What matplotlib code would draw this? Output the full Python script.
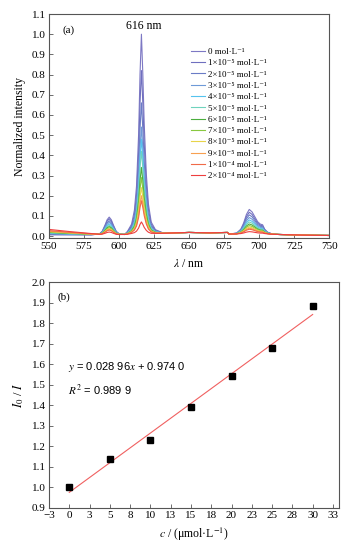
import numpy as np
import matplotlib
matplotlib.use("Agg")
import matplotlib.pyplot as plt

plt.rcParams['font.family'] = ['Liberation Serif', 'DejaVu Serif']
plt.rcParams['mathtext.fontset'] = 'stix'

# ---- (a) emission spectra ----
# common wavelength grid (nm)
wavelength = [550, 565, 580, 586, 588, 590, 591.5, 593, 594.5, 596, 598, 600,
              604, 606, 609, 611, 612.5, 614, 615, 616, 617, 618, 619.5, 621, 623, 626, 632,
              650, 665, 677.5, 678.5,
              684, 687, 689, 691, 693, 695, 697, 699, 701, 702.5, 704, 706, 709, 714, 730, 750]
# band shapes (normalised), same grid
shape_593 = [0, 0, 0, 0.05, 0.2, 0.55, 0.85, 1.0, 0.85, 0.55, 0.2, 0.05,
             0, 0, 0, 0, 0, 0, 0, 0, 0, 0, 0, 0, 0, 0, 0,
             0, 0, 0, 0,
             0, 0, 0, 0, 0, 0, 0, 0, 0, 0, 0, 0, 0, 0, 0, 0]
shape_616 = [0, 0, 0, 0, 0, 0, 0, 0, 0, 0, 0, 0,
             0, 0.015, 0.05, 0.12, 0.24, 0.5, 0.8, 1.0, 0.8, 0.55, 0.3, 0.15, 0.06, 0.02, 0,
             0, 0, 0, 0,
             0, 0, 0, 0, 0, 0, 0, 0, 0, 0, 0, 0, 0, 0, 0, 0]
shape_693 = [0, 0, 0, 0, 0, 0, 0, 0, 0, 0, 0, 0,
             0, 0, 0, 0, 0, 0, 0, 0, 0, 0, 0, 0, 0, 0, 0,
             0, 0, 0, 0,
             0.04, 0.2, 0.45, 0.8, 1.0, 0.9, 0.7, 0.5, 0.4, 0.38, 0.2, 0.08, 0.02, 0, 0, 0]
baseline = [0.006, 0.006, 0.006, 0.006, 0.006, 0.006, 0.006, 0.006, 0.006, 0.006, 0.006, 0.007,
            0.008, 0.008, 0.01, 0.01, 0.01, 0.01, 0.01, 0.01, 0.01, 0.01, 0.01, 0.01, 0.01, 0.012, 0.014,
            0.018, 0.016, 0.018, 0.01,
            0.01, 0.01, 0.01, 0.01, 0.01, 0.01, 0.01, 0.01, 0.01, 0.01, 0.01, 0.01, 0.009, 0.008, 0.005, 0.003]
edge_shape = [1.0, 0.6, 0.25, 0.08, 0.03, 0, 0, 0, 0, 0, 0, 0,
              0, 0, 0, 0, 0, 0, 0, 0, 0, 0, 0, 0, 0, 0, 0,
              0, 0, 0, 0,
              0, 0, 0, 0, 0, 0, 0, 0, 0, 0, 0, 0, 0, 0, 0, 0]

conc_labels = ['0 mol·L⁻¹', '1×10⁻⁵ mol·L⁻¹', '2×10⁻⁵ mol·L⁻¹', '3×10⁻⁵ mol·L⁻¹',
               '4×10⁻⁵ mol·L⁻¹', '5×10⁻⁵ mol·L⁻¹', '6×10⁻⁵ mol·L⁻¹', '7×10⁻⁵ mol·L⁻¹',
               '8×10⁻⁵ mol·L⁻¹', '9×10⁻⁵ mol·L⁻¹', '1×10⁻⁴ mol·L⁻¹', '2×10⁻⁴ mol·L⁻¹']
peak_616 = [0.99, 0.81, 0.65, 0.53, 0.47, 0.41, 0.33, 0.28, 0.23, 0.19, 0.165, 0.06]
peak_593 = [0.088, 0.08, 0.07, 0.062, 0.054, 0.047, 0.041, 0.035, 0.031, 0.027, 0.024, 0.014]
peak_693 = [0.122, 0.108, 0.095, 0.082, 0.07, 0.06, 0.05, 0.042, 0.035, 0.029, 0.024, 0.012]
edge_550 = [0.0, 0.002, 0.004, 0.006, 0.008, 0.01, 0.012, 0.014, 0.016, 0.018, 0.021, 0.027]
colors = ['#7d78c4', '#6f6fbf', '#6a7cc6', '#6e9ad8', '#55c3ee', '#6fd3bd',
          '#4cae3e', '#88c840', '#e8d44a', '#f8a050', '#f06a48', '#ee3f3f']

# ---- (b) Stern-Volmer plot ----
conc = [0, 5, 10, 15, 20, 25, 30]
ratio = [1.0, 1.135, 1.23, 1.39, 1.54, 1.68, 1.885]
slope = 0.02896
intercept = 0.9740
xtick_vals = [-2.5, 0, 2.5, 5, 7.5, 10, 12.5, 15, 17.5, 20, 22.5, 25, 27.5, 30, 32.5]
xtick_labels = ['−3', '0', '3', '5', '8', '10', '13', '15', '18', '20', '23', '25', '28', '30', '33']

fig = plt.figure(figsize=(3.55, 5.52), dpi=100)
spine_c = '#555555'

ax1 = fig.add_axes([0.138, 0.5683, 0.789, 0.4063])
wl = np.array(wavelength)
for i in range(len(peak_616)):
    y = (np.array(baseline) + edge_550[i] * np.array(edge_shape)
         + peak_593[i] * np.array(shape_593) + peak_616[i] * np.array(shape_616)
         + peak_693[i] * np.array(shape_693))
    ax1.plot(wl, y, color=colors[i], lw=0.8, label=conc_labels[i])
ax1.set_xlim(550, 750)
ax1.set_ylim(-0.011, 1.1)
ax1.set_xticks(np.arange(550, 751, 25))
ax1.set_yticks(np.arange(0, 1.11, 0.1))
ax1.yaxis.set_major_formatter(plt.FormatStrFormatter('%.1f'))
ax1.set_xlabel(r'$\lambda$ / nm', fontsize=8.5, labelpad=5)
ax1.set_ylabel('Normalized intensity', fontsize=8.5, labelpad=4)
ax1.text(560, 1.02, '(a)', fontsize=8, ha='left', va='center')
ax1.text(618, 1.04, '616 nm', fontsize=8.5, ha='center', va='center')
ax1.legend(loc='upper left', bbox_to_anchor=(0.49, 0.87), frameon=False, fontsize=6.5,
           handlelength=1.6, handletextpad=0.3, labelspacing=0.33, borderpad=0)

ax2 = fig.add_axes([0.138, 0.0806, 0.817, 0.408])
ax2.plot([0, 30], [intercept, slope * 30 + intercept], color='#f06060', lw=0.8)
ax2.plot(conc, ratio, 's', color='black', markersize=4)
ax2.set_xlim(-2.5, 33.25)
ax2.set_ylim(0.9, 2.0)
ax2.set_xticks(xtick_vals)
ax2.set_xticklabels(xtick_labels)
ax2.set_yticks(np.arange(0.9, 2.01, 0.1))
ax2.yaxis.set_major_formatter(plt.FormatStrFormatter('%.1f'))
ax2.set_xlabel(r'$c$ / (μmol·L$^{-1}$)', fontsize=8.5, labelpad=4)
ax2.set_ylabel(r'$I_0$ / $I$', fontsize=9, labelpad=4)
ax2.text(-1.4, 1.925, '(b)', fontsize=8, ha='left', va='center')
ax2.text(-0.2, 1.585, r'$y$ = 0.028 96$x$ + 0.974 0', fontsize=8, ha='left', va='center',
         family=['Liberation Sans', 'DejaVu Sans'])
ax2.text(-0.2, 1.472, r'$R^2$ = 0.989 9', fontsize=8, ha='left', va='center',
         family=['Liberation Sans', 'DejaVu Sans'])

for ax in (ax1, ax2):
    for s in ax.spines.values():
        s.set_color(spine_c)
        s.set_linewidth(0.8)
    ax.tick_params(direction='in', length=3, width=0.6, color=spine_c, labelsize=8, pad=2.5,
                   top=False, right=False)

fig.savefig('out.png', dpi=100)
